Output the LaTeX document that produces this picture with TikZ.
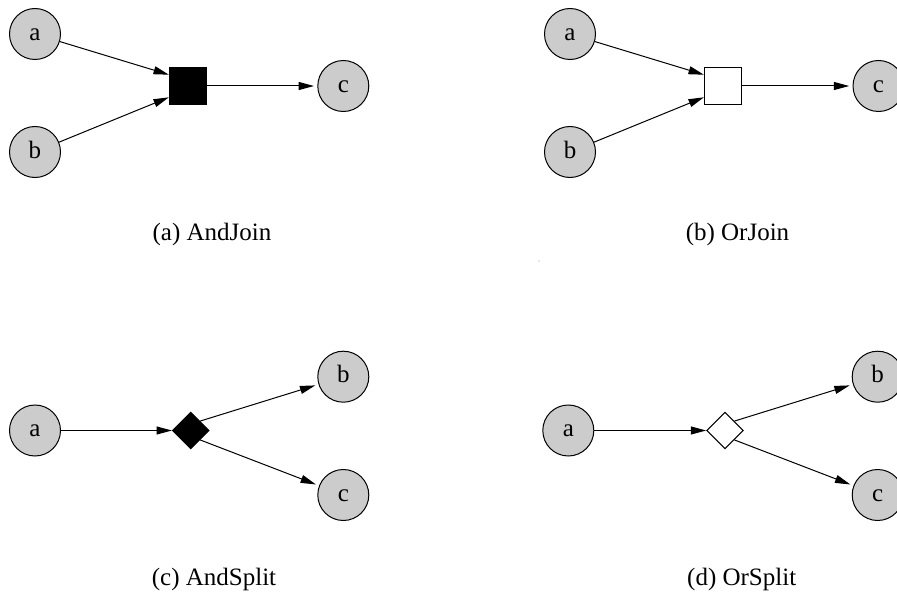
\documentclass[tikz,border=0pt]{standalone}
\usepackage{fontspec}
\setmainfont{Liberation Serif}
\usetikzlibrary{arrows.meta,shapes.geometric,calc}
\begin{document}
\begin{tikzpicture}[x=0.75pt,y=-0.75pt,
  place/.style={circle,draw,fill=black!20,line width=0.75pt,minimum size=38.25pt,inner sep=0pt,
    text height=9.4pt,text depth=0pt,font=\fontsize{18.75}{22}\selectfont},
  joinbox/.style={rectangle,draw,line width=0.75pt,minimum size=27.5pt,inner sep=0pt},
  splitbox/.style={diamond,draw,line width=0.75pt,minimum width=27.5pt,minimum height=27.5pt,inner sep=0pt},
  flow/.style={line width=0.75pt,-{Triangle[length=11.5pt,width=6pt]}},
  toplace/.style={flow,shorten >=2.5pt},
  caption/.style={font=\fontsize{18.75}{22}\selectfont,anchor=base,inner sep=0pt}]
\useasboundingbox (0,0) rectangle (897,592);
% (a) AndJoin
\node[place] (a1) at (35,34) {a};
\node[place] (b1) at (35,152) {b};
\node[joinbox,fill=black] (j1) at (187.7,86) {};
\node[place] (c1) at (343.3,86) {c};
\draw[flow] (a1) -- ($(j1.north west)!0.2!(j1.south west)$);
\draw[flow] (b1) -- ($(j1.north west)!0.8!(j1.south west)$);
\draw[toplace] (j1) -- (c1);
\node[caption] (capa) at (212,240) {(a) AndJoin};
% (b) OrJoin
\node[place] (a2) at (570,34) {a};
\node[place] (b2) at (570,152) {b};
\node[joinbox,fill=white] (j2) at (722.7,86) {};
\node[place] (c2) at (878.5,86) {c};
\draw[flow] (a2) -- ($(j2.north west)!0.2!(j2.south west)$);
\draw[flow] (b2) -- ($(j2.north west)!0.8!(j2.south west)$);
\draw[toplace] (j2) -- (c2);
\node[caption] (capb) at (737.5,240) {(b) OrJoin};
\fill[black!40] (539,261) circle (0.6);
% (c) AndSplit
\node[place] (a3) at (35,430.5) {a};
\node[splitbox,fill=black] (d3) at (190.7,430.5) {};
\node[place] (b3) at (343.3,376.7) {b};
\node[place] (c3) at (343.3,495) {c};
\draw[flow] (a3) -- (d3);
\draw[toplace] ($(d3.north)!0.5!(d3.east)$) -- (b3);
\draw[toplace] ($(d3.south)!0.5!(d3.east)$) -- (c3);
\node[caption] (capc) at (214,585) {(c) AndSplit};
% (d) OrSplit
\node[place] (a4) at (568.3,430.5) {a};
\node[splitbox,fill=white] (d4) at (725,430.5) {};
\node[place] (b4) at (877.7,376.7) {b};
\node[place] (c4) at (877.7,495) {c};
\draw[flow] (a4) -- (d4);
\draw[toplace] ($(d4.north)!0.5!(d4.east)$) -- (b4);
\draw[toplace] ($(d4.south)!0.5!(d4.east)$) -- (c4);
\node[caption] (capd) at (741.7,585) {(d) OrSplit};
\end{tikzpicture}
\end{document}
